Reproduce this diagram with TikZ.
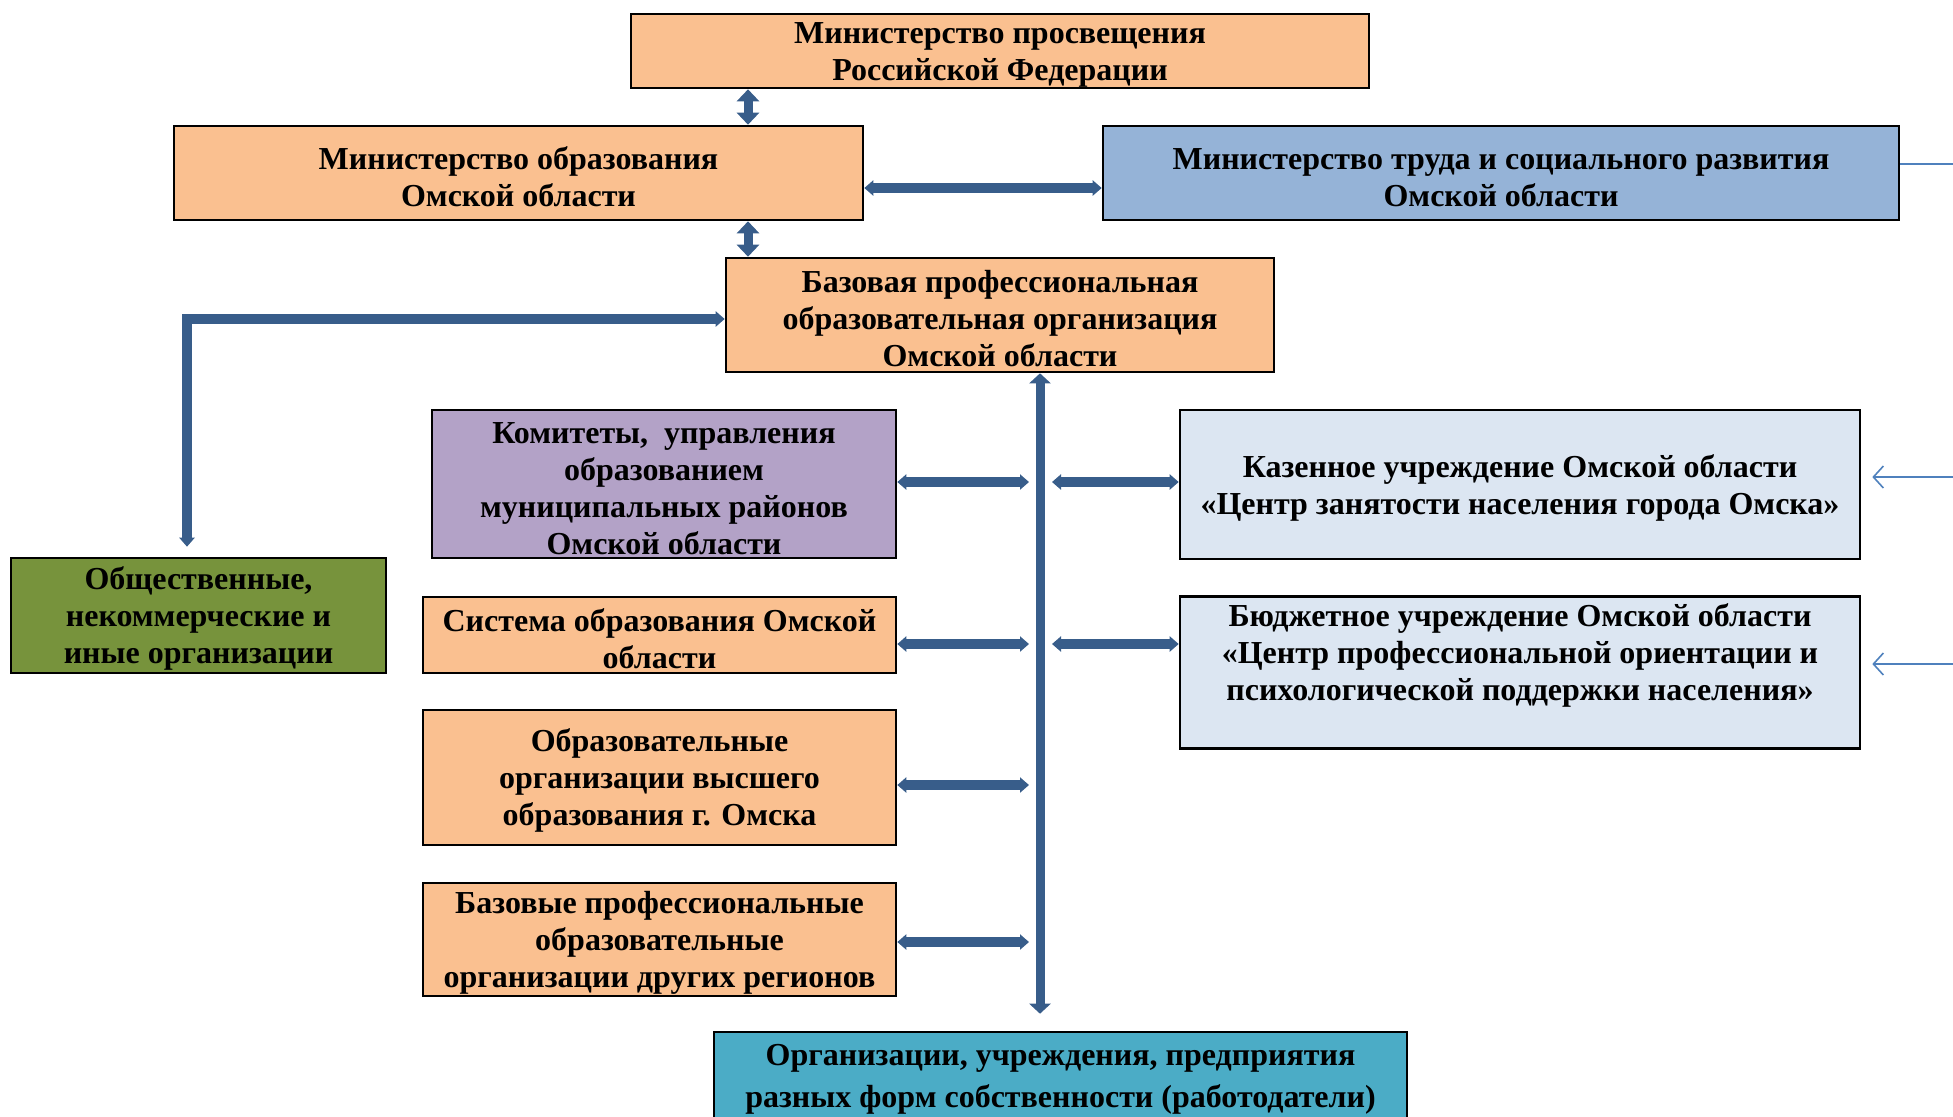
\documentclass[tikz,border=0pt]{standalone}
\usepackage{fontspec}
\setmainfont{Liberation Serif}
\usetikzlibrary{arrows.meta}

\definecolor{peach}{HTML}{FAC090}
\definecolor{skyblue}{HTML}{95B3D7}
\definecolor{lilac}{HTML}{B3A2C7}
\definecolor{olive}{HTML}{77933C}
\definecolor{paleblue}{HTML}{DCE6F2}
\definecolor{teal}{HTML}{4BACC6}
\definecolor{linkblue}{HTML}{385D8A}
\definecolor{thinblue}{HTML}{4F81BD}

\newcommand{\tallrow}{\rule{0pt}{14.8pt}}

\tikzset{
    box/.style={draw=black, line width=1.3pt, align=center, inner sep=0pt,
        font=\bfseries\fontsize{16}{18.5}\selectfont},
    link/.style={draw=linkblue, line width=5pt,
        {Triangle[width=7.5pt,length=4.5pt]}-{Triangle[width=7.5pt,length=4.5pt]}},
    vlink/.style={draw=linkblue, line width=4.5pt,
        {Triangle[width=11pt,length=6pt]}-{Triangle[width=11pt,length=6pt]}},
    spine/.style={draw=linkblue, line width=4.5pt,
        {Triangle[width=10.5pt,length=5pt]}-{Triangle[width=10.5pt,length=5pt]}},
    thin/.style={draw=thinblue, line width=0.8pt},
}

\begin{document}
\begin{tikzpicture}[x=0.5pt,y=-0.5pt]
    \useasboundingbox (0,0) rectangle (1953,1116);
    \clip (0,0) rectangle (1953,1116);

    % boxes
    \node (mpr) [box, fill=peach, minimum width=369pt, minimum height=37pt] at (1000,51)
        {\tallrow Министерство просвещения\\Российской Федерации};
    \node (mobr) [box, fill=peach, minimum width=344.5pt, minimum height=47pt] at (518.5,173)
        {\tallrow Министерство образования\\Омской области};
    \node (mtr) [box, fill=skyblue, minimum width=398pt, minimum height=47pt] at (1501,173)
        {\tallrow Министерство труда и социального развития\\Омской области};
    \node (bpoo) [box, fill=peach, minimum width=274pt, minimum height=57pt] at (1000,315)
        {\tallrow Базовая профессиональная\\образовательная организация\\Омской области};

    \node (kom) [box, fill=lilac, minimum width=232pt, minimum height=74pt] at (664,484)
        {\tallrow Комитеты,\ \ управления\\образованием\\муниципальных районов\\Омской области};
    \node (sis) [box, fill=peach, minimum width=236.5pt, minimum height=38pt] at (659.5,635)
        {\tallrow Система образования Омской\\области};
    \node (vuz) [box, fill=peach, minimum width=236.5pt, minimum height=67.5pt] at (659.5,777.5)
        {\tallrow Образовательные\\организации высшего\\образования г. Омска};
    \node (dr) [box, fill=peach, minimum width=236.5pt, minimum height=56.5pt] at (659.5,939.5)
        {\tallrow Базовые профессиональные\\образовательные\\организации других регионов};

    \node (obsh) [box, fill=olive, minimum width=187.5pt, minimum height=57.5pt] at (198.5,615.5)
        {\tallrow Общественные,\\некоммерческие и\\иные организации};

    \node (kaz) [box, fill=paleblue, minimum width=340pt, minimum height=74.5pt] at (1520,484.5)
        {\tallrow Казенное учреждение Омской области\\«Центр занятости населения города Омска»};
    \node (byud) [box, fill=paleblue, minimum width=340pt, minimum height=74.5pt] at (1520,672.5)
        {\tallrow Бюджетное учреждение Омской области\\«Центр профессиональной ориентации и\\психологической поддержки населения»\\\strut};

    \node (emp) [box, fill=teal, minimum width=346.5pt, minimum height=43pt,
        font=\bfseries\fontsize{16}{21}\selectfont] at (1060.5,1075)
        {\tallrow Организации, учреждения, предприятия\\разных форм собственности (работодатели)};

    % helper points
    \coordinate (ax) at (748,0);
    \coordinate (sp) at (1040,0);
    \coordinate (corner) at (187,319);
    \coordinate (r0) at (0,188);
    \coordinate (r1) at (0,482);
    \coordinate (r2) at (0,644);
    \coordinate (r3) at (0,785);
    \coordinate (r4) at (0,942);
    \coordinate (t0) at (1953,164);
    \coordinate (t1) at (1953,477);
    \coordinate (t2) at (1953,664);

    % links
    \draw[vlink] (mpr.south -| ax) -- (mobr.north -| ax);
    \draw[vlink] (mobr.south -| ax) -- (bpoo.north -| ax);
    \draw[link] (mobr.east |- r0) -- (mtr.west |- r0);
    \draw[link] ([yshift=5pt]corner |- obsh.north) -- (corner) -- (corner -| bpoo.west);
    \draw[spine] (bpoo.south -| sp) -- ([yshift=8.5pt]emp.north -| sp);

    \draw[link] (kom.east |- r1) -- ([xshift=-5.5pt]sp |- r1);
    \draw[link] (sis.east |- r2) -- ([xshift=-5.5pt]sp |- r2);
    \draw[link] (vuz.east |- r3) -- ([xshift=-5.5pt]sp |- r3);
    \draw[link] (dr.east |- r4) -- ([xshift=-5.5pt]sp |- r4);
    \draw[link] ([xshift=6pt]sp |- r1) -- (kaz.west |- r1);
    \draw[link] ([xshift=6pt]sp |- r2) -- (byud.west |- r2);

    % cut-off links at the right edge
    \draw[thin] (mtr.east |- t0) -- (t0);
    \draw[thin, -{Straight Barb[length=5pt,width=11pt]}] (t1) -- ([xshift=5.5pt]kaz.east |- t1);
    \draw[thin, -{Straight Barb[length=5pt,width=11pt]}] (t2) -- ([xshift=5.5pt]byud.east |- t2);
\end{tikzpicture}
\end{document}
